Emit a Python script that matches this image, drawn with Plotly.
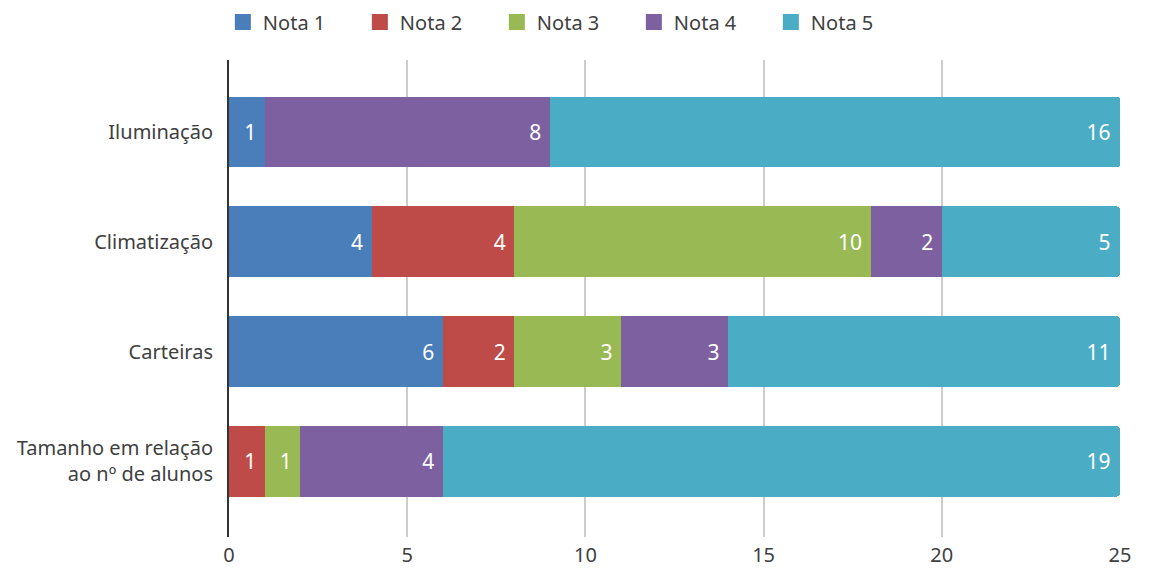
import plotly.graph_objects as go

categories = ["Iluminação", "Climatização", "Carteiras", "Tamanho em relação<br>ao nº de alunos"]
series_names = ["Nota 1", "Nota 2", "Nota 3", "Nota 4", "Nota 5"]
nota1 = [1, 4, 6, 0]
nota2 = [0, 4, 2, 1]
nota3 = [0, 10, 3, 1]
nota4 = [8, 2, 3, 4]
nota5 = [16, 5, 11, 19]
colors = ["#4A7EBB", "#BE4B48", "#98B954", "#7D60A0", "#4BACC6"]
x_ticks = [0, 5, 10, 15, 20, 25]

FONT = "Noto Sans"
fig = go.Figure()
for name, vals, col in zip(series_names, [nota1, nota2, nota3, nota4, nota5], colors):
    fig.add_trace(go.Bar(
        y=categories, x=vals, name=name, orientation="h",
        marker=dict(color=col, line=dict(width=0)),
        text=[(str(v) + "\u00a0") if v else "" for v in vals],
        textposition="inside", insidetextanchor="end",
        textfont=dict(color="white", size=21, family=FONT),
        hoverinfo="x+name", showlegend=False,
    ))
# legend entries (square swatches)
for name, col in zip(series_names, colors):
    fig.add_trace(go.Scatter(
        x=[None], y=[None], mode="markers", name=name,
        marker=dict(symbol="square", size=24, color=col),
        showlegend=True,
    ))

fig.update_layout(
    barmode="stack",
    bargap=0.355,
    barcornerradius=4,
    width=1149, height=571,
    margin=dict(l=221, r=37, t=52, b=42, autoexpand=False),
    plot_bgcolor="white", paper_bgcolor="white",
    font=dict(family=FONT, size=20, color="#404040"),
    legend=dict(orientation="h", xref="container", yref="container",
                x=0.187, xanchor="left", y=1 - 14 / 571, yanchor="middle",
                font=dict(size=20, color="#404040"), entrywidth=92, traceorder="normal",
                itemsizing="trace", itemwidth=30),
    xaxis=dict(range=[0, 25], tickvals=x_ticks, showgrid=True, gridcolor="#CCCCCC", gridwidth=1.5,
               zeroline=False, showline=False, ticks="", automargin=False, ticklabelstandoff=4,
               tickfont=dict(size=20, color="#404040")),
    yaxis=dict(categoryorder="array", categoryarray=categories[::-1],
               range=[-0.69, 3.656], showline=True, linecolor="#333333", linewidth=2,
               showgrid=False, ticks="", ticklabelstandoff=10, automargin=False,
               tickfont=dict(size=20, color="#404040")),
)
fig.write_html("out.html")
